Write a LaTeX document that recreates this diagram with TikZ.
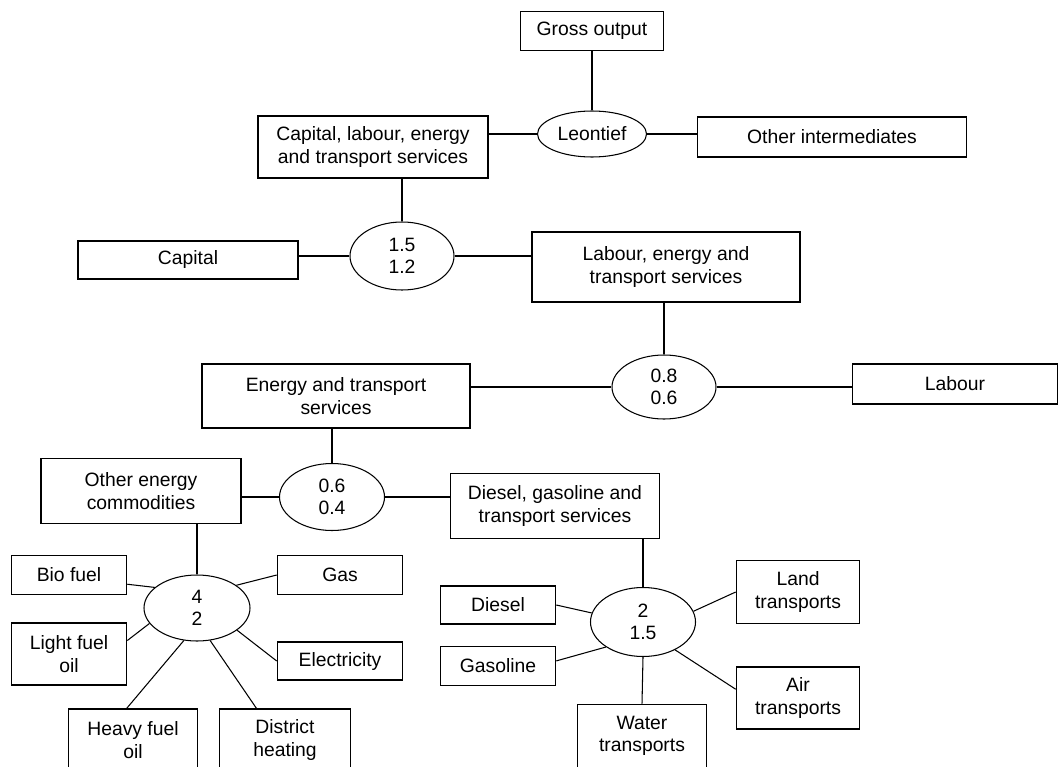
\documentclass[tikz,border=0pt]{standalone}
\usepackage{fontspec}
\setmainfont{Liberation Sans}
\usetikzlibrary{shapes.geometric}
\begin{document}
\begin{tikzpicture}[x=0.02cm,y=-0.02cm,
    sz/.style 2 args={minimum width=#1*0.02cm,minimum height=#2*0.02cm},
    box/.style={draw,line width=0.9pt,inner sep=0pt,align=center,font=\fontsize{11}{12.8}\selectfont},
    ell/.style={draw,ellipse,line width=0.6pt,inner sep=0pt,align=center,font=\fontsize{11}{12.8}\selectfont},
    every path/.style={line width=0.6pt}]
  \useasboundingbox (0,0) rectangle (1061,767);
  % top level
  \node[box,sz={143}{39}] (gross) at (592,31) {Gross output};
  \node[ell,sz={109}{46}] (leon) at (592,134) {Leontief};
  \node[box,sz={230}{62}] (caplab) at (373,147) {Capital, labour, energy\\and transport services};
  \node[box,sz={269}{40}] (otherint) at (832,137) {Other intermediates};
  % capital nest
  \node[ell,sz={104}{68}] (e15) at (402,256) {1.5\\1.2};
  \node[box,sz={220}{38}] (capital) at (188,260) {Capital};
  \node[box,sz={268}{70}] (labens) at (666,267) {Labour, energy and\\transport services};
  % labour nest
  \node[ell,sz={104}{64}] (e08) at (664,387) {0.8\\0.6};
  \node[box,sz={268}{64}] (energy) at (336,396) {Energy and transport\\services};
  \node[box,sz={205}{40}] (labour) at (955,384) {Labour};
  % energy nest
  \node[ell,sz={105}{67}] (e06) at (332,497) {0.6\\0.4};
  \node[box,sz={200}{65}] (otheren) at (141,491) {Other energy\\commodities};
  \node[box,sz={209}{65}] (dgts) at (555,506) {Diesel, gasoline and\\transport services};
  % other energy
  \node[ell,sz={106}{66}] (e4) at (197,608) {4\\2};
  \node[box,sz={115}{39}] (bio) at (69,575) {Bio fuel};
  \node[box,sz={115}{62}] (light) at (69,654) {Light fuel\\oil};
  \node[box,sz={129}{62}] (heavy) at (133,740) {Heavy fuel\\oil};
  \node[box,sz={131}{62}] (district) at (285,740) {District\\heating};
  \node[box,sz={125}{39}] (gas) at (340,575) {Gas};
  \node[box,sz={125}{38}] (elec) at (340,661) {Electricity};
  % transport
  \node[ell,sz={105}{69}] (e2) at (643,622) {2\\1.5};
  \node[box,sz={115}{38}] (diesel) at (498,605) {Diesel};
  \node[box,sz={115}{39}] (gasoline) at (498,666) {Gasoline};
  \node[box,sz={123}{63}] (land) at (798,592) {Land\\transports};
  \node[box,sz={123}{62}] (air) at (798,698) {Air\\transports};
  \node[box,sz={129}{63}] (water) at (642,736) {Water\\transports};
  % connectors
  \draw (gross.south) -- (leon.north);
  \draw (caplab.east |- leon.west) -- (leon.west);
  \draw (leon.east) -- (otherint.west |- leon.east);
  \draw (caplab.south -| e15.north) -- (e15.north);
  \draw (capital.east |- e15.west) -- (e15.west);
  \draw (e15.east) -- (labens.west |- e15.east);
  \draw (labens.south -| e08.north) -- (e08.north);
  \draw (energy.east |- e08.west) -- (e08.west);
  \draw (e08.east) -- (labour.west |- e08.east);
  \draw (energy.south -| e06.north) -- (e06.north);
  \draw (otheren.east |- e06.west) -- (e06.west);
  \draw (e06.east) -- (dgts.west |- e06.east);
  \draw (otheren.south -| e4.north) -- (e4.north);
  \draw (bio.-9) -- (e4.154);
  \draw (gas.west) -- (e4.30);
  \draw (light.13) -- (e4.198);
  \draw (elec.west) -- (e4.331);
  \draw (heavy.101) -- (e4.248);
  \draw (district.132) -- (e4.292);
  \draw (dgts.south -| e2.north) -- (e2.north);
  \draw (diesel.east) -- (e2.170);
  \draw (gasoline.5) -- (e2.214);
  \draw (land.west) -- (e2.12);
  \draw (air.172) -- (e2.319);
  \draw (e2.south) -- (water.north);
\end{tikzpicture}
\end{document}
